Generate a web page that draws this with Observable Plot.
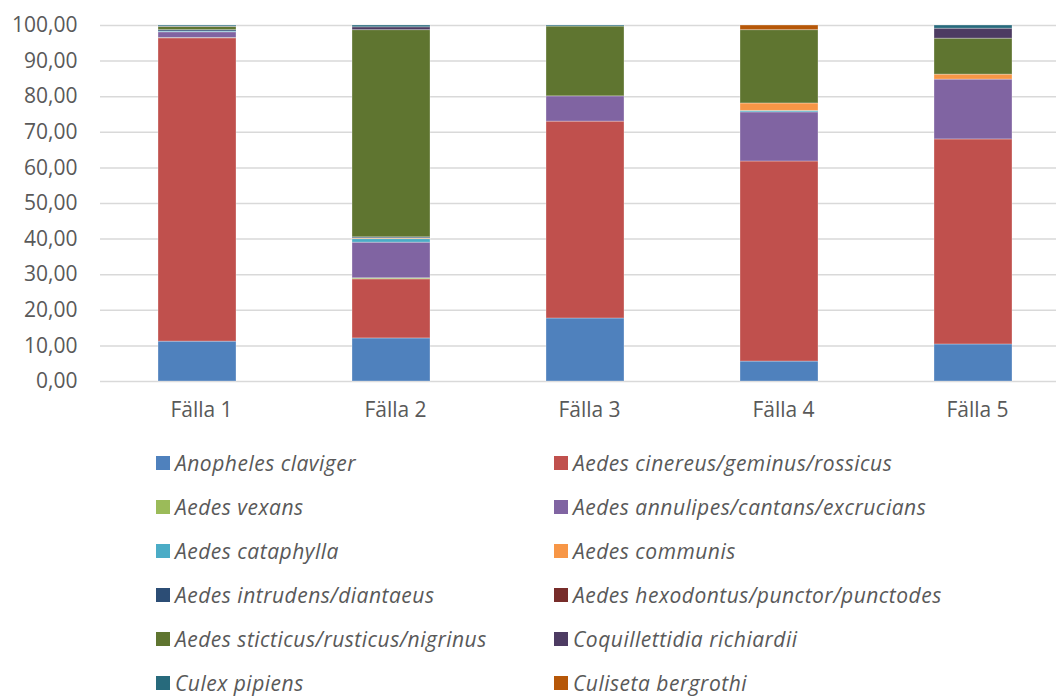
<!DOCTYPE html>
<html>
<head>
<meta charset="utf-8">
<script src="https://cdn.jsdelivr.net/npm/d3@7"></script>
<script src="https://cdn.jsdelivr.net/npm/@observablehq/plot@0.6"></script>
<style>
  body { margin: 0; background: #fff; font-family: "Open Sans", sans-serif; }
  #chart { width: 1056px; }
  #legend { display: flex; flex-wrap: wrap; padding-left: 156px; margin-top: 13px; }
  .item { width: 398px; height: 44px; display: flex; align-items: center; color: #595959;
          font-style: italic; font-size: 21px; letter-spacing: 0.5px; white-space: nowrap; }
  .sw { width: 14px; height: 14px; margin-right: 5px; flex: none; }
</style>
</head>
<body>
<div id="chart"></div>
<div id="legend"></div>
<script>
// Traps (x categories)
const traps = ["Fälla 1", "Fälla 2", "Fälla 3", "Fälla 4", "Fälla 5"];

// Species, bottom to top of each stack
const species = [
  "Anopheles claviger",
  "Aedes cinereus/geminus/rossicus",
  "Aedes vexans",
  "Aedes annulipes/cantans/excrucians",
  "Aedes cataphylla",
  "Aedes communis",
  "Aedes intrudens/diantaeus",
  "Aedes hexodontus/punctor/punctodes",
  "Aedes sticticus/rusticus/nigrinus",
  "Coquillettidia richiardii",
  "Culex pipiens",
  "Culiseta bergrothi"
];

const colors = ["#4F81BD", "#C0504D", "#9BBB59", "#8064A2", "#4BACC6", "#F79646",
                "#2C4D75", "#772C2A", "#5F7530", "#4D3B62", "#276A7C", "#B65708"];

// Share (%) of each species per trap, Fälla 1..5
const anopheles     = [11.2, 12.1, 17.7,  5.6, 10.4];
const cinereus      = [85.2, 16.6, 55.3, 56.2, 57.6];
const vexans        = [ 0.1,  0.3,  0.0,  0.0,  0.0];
const annulipes     = [ 1.6, 10.0,  7.1, 13.8, 16.8];
const cataphylla    = [ 0.2,  1.0,  0.0,  0.4,  0.0];
const communis      = [ 0.0,  0.2,  0.0,  2.1,  1.4];
const intrudens     = [ 0.4,  0.3,  0.0,  0.0,  0.0];
const hexodontus    = [ 0.0,  0.0,  0.0,  0.0,  0.0];
const sticticus     = [ 0.9, 58.2, 19.6, 20.6, 10.1];
const coquillettidia= [ 0.1,  0.8,  0.0,  0.0,  2.8];
const culex         = [ 0.3,  0.5,  0.3,  0.0,  0.9];
const culiseta      = [ 0.0,  0.0,  0.0,  1.3,  0.0];

const series = [anopheles, cinereus, vexans, annulipes, cataphylla, communis,
                intrudens, hexodontus, sticticus, coquillettidia, culex, culiseta];

const rows = [];
species.forEach((s, i) => traps.forEach((t, j) => rows.push({trap: t, species: s, value: series[i][j]})));

const fmt = d => d.toFixed(2).replace(".", ",");

const plot = Plot.plot({
  width: 1056,
  height: 428,
  marginLeft: 100,
  marginRight: 0,
  marginTop: 25,
  marginBottom: 47,
  style: {fontFamily: "'Open Sans', sans-serif", fontSize: "21px", color: "#595959", background: "#fff"},
  x: {domain: traps, range: [100, 1070], paddingInner: 0.6, paddingOuter: 0.3, label: null},
  y: {domain: [0, 100], label: null, ticks: d3.range(0, 101, 10)},
  color: {domain: species, range: colors},
  marks: [
    Plot.ruleY(d3.range(0, 101, 10), {stroke: "#D9D9D9", strokeWidth: 1.5}),
    Plot.barY(rows, Plot.stackY({order: null}, {
      x: "trap", y: "value", fill: "species",
      stroke: "white", strokeOpacity: 0.3, strokeWidth: 1
    })),
    Plot.axisY({ticks: d3.range(0, 101, 10), tickFormat: fmt, tickSize: 0, tickPadding: 23,
                fill: "#595959", label: null, style: {letterSpacing: "0.3px"}}),
    Plot.axisX({tickSize: 0, tickPadding: 21, fill: "#595959", label: null, dx: 4,
                style: {letterSpacing: "1px"}})
  ]
});
document.getElementById("chart").appendChild(plot);

const legend = document.getElementById("legend");
species.forEach((s, i) => {
  const item = document.createElement("div");
  item.className = "item";
  const sw = document.createElement("span");
  sw.className = "sw";
  sw.style.background = colors[i];
  const label = document.createElement("span");
  label.textContent = s;
  item.appendChild(sw);
  item.appendChild(label);
  legend.appendChild(item);
});
</script>
</body>
</html>
